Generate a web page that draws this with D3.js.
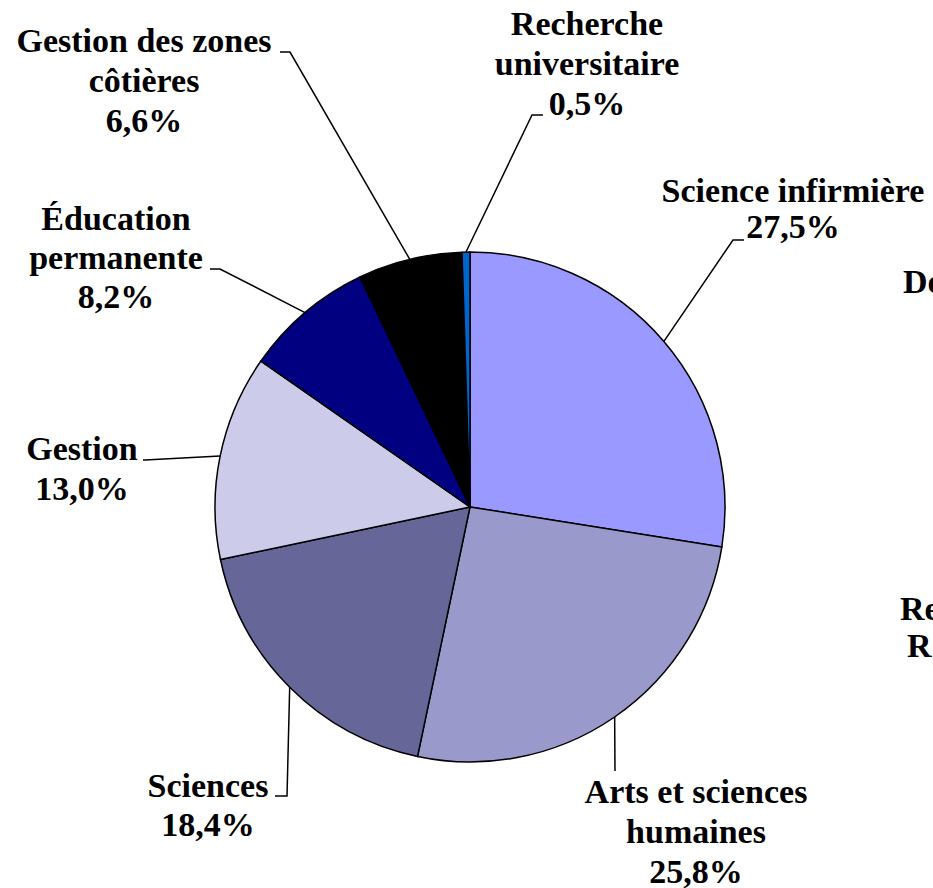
<!DOCTYPE html>
<html>
<head>
<meta charset="utf-8">
<script src="https://cdn.jsdelivr.net/npm/d3@7"></script>
<style>
  html, body { margin: 0; padding: 0; background: #fff; overflow: hidden; }
  svg { display: block; }
</style>
</head>
<body>
<div id="chart"></div>
<script>
// Data (pie starts at 12 o'clock, clockwise)
const categories = [
  'Science infirmière',
  'Arts et sciences humaines',
  'Sciences',
  'Gestion',
  'Éducation permanente',
  'Gestion des zones côtières',
  'Recherche universitaire'
];
const shares = [27.5, 25.8, 18.4, 13.0, 8.2, 6.6, 0.5];
const sliceColors = ['#9999ff', '#9999cc', '#666699', '#ccccea', '#000080', '#000000', '#0066cc'];

// Label placement: text centre, first baseline, line gap, words on first line, leader elbow/end
const labelLayout = {
  'Science infirmière':         { cx: 793, y: 202, lh: 36, words: 2, elbow: [733, 240], end: [744, 240] },
  'Arts et sciences humaines':  { cx: 696, y: 803, lh: 40, words: 3, elbow: [615, 771], end: [615, 771] },
  'Sciences':                   { cx: 208, y: 797, lh: 39, words: 1, elbow: [287, 796], end: [275, 796] },
  'Gestion':                    { cx: 82,  y: 460, lh: 40, words: 1, elbow: [145, 460], end: [143, 460] },
  'Éducation permanente':       { cx: 116, y: 230, lh: 39, words: 1, elbow: [220, 269], end: [210, 269] },
  'Gestion des zones côtières': { cx: 144, y: 52,  lh: 40, words: 3, elbow: [290, 52],  end: [280, 52] },
  'Recherche universitaire':    { cx: 587, y: 35,  lh: 40, words: 1, elbow: [532, 115], end: [543, 115] }
};

// Text of a neighbouring chart that is cut off at the right edge
const cutLabels = [
  { text: 'Do', x: 903, y: 293 },
  { text: 'Re', x: 900, y: 620 },
  { text: 'R', x: 907, y: 657 }
];

const width = 933;
const height = 888;
const cx = 470;
const cy = 507;
const radius = 255;

const fr = d3.formatLocale({ decimal: ',', thousands: ' ', grouping: [3], currency: ['', ' €'] });
const pct = fr.format('.1f');

const slices = categories.map((name, i) => ({ name, value: shares[i], color: sliceColors[i] }));

const svg = d3.select('#chart').append('svg')
  .attr('width', width)
  .attr('height', height);

const pie = d3.pie().sort(null).value((d) => d.value);
const arcs = pie(slices);

const arc = d3.arc().innerRadius(0).outerRadius(radius);
const edgeArc = d3.arc().innerRadius(radius).outerRadius(radius);

const g = svg.append('g').attr('transform', `translate(${cx},${cy})`);

g.selectAll('path.slice')
  .data(arcs)
  .join('path')
  .attr('class', 'slice')
  .attr('d', arc)
  .attr('fill', (d) => d.data.color)
  .attr('stroke', '#000')
  .attr('stroke-width', 1.5)
  .attr('stroke-linejoin', 'round');

// Leader lines from the slice edge to the label
const line = d3.line();
svg.selectAll('path.leader')
  .data(arcs)
  .join('path')
  .attr('class', 'leader')
  .attr('d', (d) => {
    const lay = labelLayout[d.data.name];
    const p = edgeArc.centroid(d);
    return line([[p[0] + cx, p[1] + cy], lay.elbow, lay.end]);
  })
  .attr('fill', 'none')
  .attr('stroke', '#000')
  .attr('stroke-width', 1.5);

// Labels
const labels = svg.selectAll('text.label')
  .data(arcs)
  .join('text')
  .attr('class', 'label')
  .style('font-family', '"Liberation Serif"')
  .style('font-weight', 'bold')
  .style('font-size', '34px')
  .attr('text-anchor', 'middle');

labels.each(function (d) {
  const lay = labelLayout[d.data.name];
  const words = d.data.name.split(' ');
  const lines = [words.slice(0, lay.words).join(' ')];
  if (words.length > lay.words) lines.push(words.slice(lay.words).join(' '));
  lines.push(`${pct(d.data.value)}%`);
  d3.select(this).selectAll('tspan')
    .data(lines)
    .join('tspan')
    .attr('x', lay.cx)
    .attr('y', (t, i) => lay.y + i * lay.lh)
    .text((t) => t);
});

svg.selectAll('text.cut')
  .data(cutLabels)
  .join('text')
  .attr('class', 'cut')
  .style('font-family', '"Liberation Serif"')
  .style('font-weight', 'bold')
  .style('font-size', '34px')
  .attr('x', (d) => d.x)
  .attr('y', (d) => d.y)
  .text((d) => d.text);
</script>
</body>
</html>
